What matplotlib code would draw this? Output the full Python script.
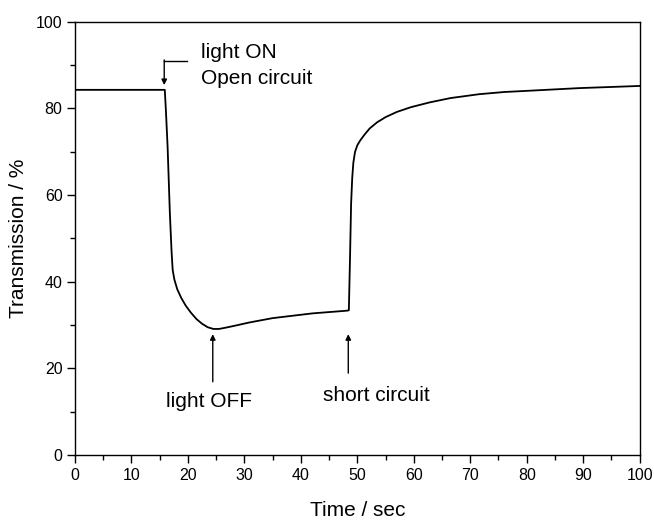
import matplotlib
matplotlib.use("Agg")
import matplotlib.pyplot as plt
from matplotlib.ticker import MultipleLocator

plt.rcParams['font.family'] = ['Liberation Sans', 'DejaVu Sans']

time_s = [0, 15.9, 16.1, 16.4, 16.8, 17.1, 17.3, 17.6, 18.1, 18.8, 19.6, 20.5,
          21.5, 22.5, 23.5, 24.5, 25.5, 26.7, 28.5, 30.9, 35.0, 42.1, 48.0,
          48.5, 48.7, 48.9, 49.1, 49.3, 49.6, 50.0, 50.5, 51.3, 52.2, 53.5,
          55.0, 57.0, 59.5, 62.8, 66.5, 71.6, 76.0, 80.5, 89.3, 100]
transmission = [84.3, 84.3, 79.5, 71.1, 55.8, 47.0, 42.7, 40.5, 38.3, 36.3, 34.5, 32.9,
                31.4, 30.3, 29.5, 29.1, 29.1, 29.4, 29.9, 30.6, 31.6, 32.7, 33.3,
                33.4, 45.0, 58.0, 64.0, 67.5, 70.0, 71.5, 72.6, 74.0, 75.4, 76.8,
                78.0, 79.2, 80.3, 81.4, 82.4, 83.3, 83.8, 84.1, 84.7, 85.2]

x_ticks = [0, 10, 20, 30, 40, 50, 60, 70, 80, 90, 100]
y_ticks = [0, 20, 40, 60, 80, 100]

fig = plt.figure(figsize=(6.54, 5.2), dpi=100)
ax = fig.add_axes([0.1147, 0.125, 0.8633, 0.833])
ax.plot(time_s, transmission, color='black', lw=1.3)

ax.set_xlim(0, 100)
ax.set_ylim(0, 100)
ax.set_xticks(x_ticks)
ax.set_yticks(y_ticks)
ax.xaxis.set_minor_locator(MultipleLocator(5))
ax.yaxis.set_minor_locator(MultipleLocator(10))
ax.tick_params(which='major', direction='out', length=6, width=1.0, labelsize=11.5, pad=3)
ax.tick_params(which='minor', direction='out', length=3.5, width=1.0)
for s in ax.spines.values():
    s.set_linewidth(1.0)
ax.set_xlabel('Time / sec', fontsize=15, labelpad=13)
ax.set_ylabel('Transmission / %', fontsize=15, labelpad=6)

# annotations
ax.plot([19.9, 15.8], [91.0, 91.0], color='black', lw=1.0)
ax.annotate('', xy=(15.8, 85.4), xytext=(15.8, 91.2),
            arrowprops=dict(arrowstyle='-|>', color='black', lw=1.0,
                            mutation_scale=8, shrinkA=0, shrinkB=0))
ax.text(22.3, 91.7, 'light ON', fontsize=15, va='baseline', ha='left')
ax.text(22.3, 85.6, 'Open circuit', fontsize=15, va='baseline', ha='left')

ax.annotate('', xy=(24.4, 27.9), xytext=(24.4, 16.9),
            arrowprops=dict(arrowstyle='-|>', color='black', lw=1.0,
                            mutation_scale=8, shrinkA=0, shrinkB=0))
ax.text(23.8, 11.1, 'light OFF', fontsize=15, ha='center', va='baseline')

ax.annotate('', xy=(48.4, 27.9), xytext=(48.4, 18.9),
            arrowprops=dict(arrowstyle='-|>', color='black', lw=1.0,
                            mutation_scale=8, shrinkA=0, shrinkB=0))
ax.text(53.4, 12.5, 'short circuit', fontsize=15, ha='center', va='baseline')

fig.savefig('out.png', dpi=100)
